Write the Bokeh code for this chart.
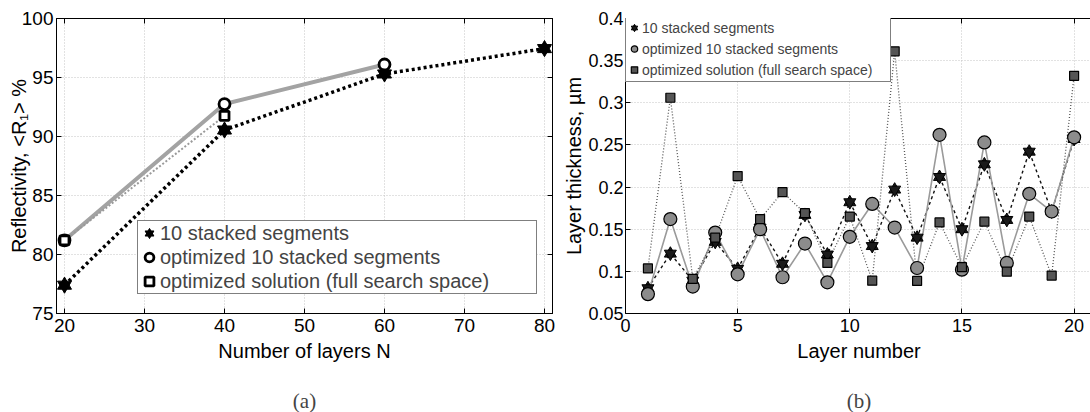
from bokeh.plotting import figure
from bokeh.models import Range1d, FixedTicker, LinearAxis, Legend, LegendItem, Title
from bokeh.layouts import row
from bokeh.embed import file_html
from bokeh.resources import INLINE

# ---------------- data: panel (a) ----------------
n_layers = [20, 40, 60, 80]
refl_stacked = [77.4, 90.55, 95.3, 97.45]
n_layers_opt = [20, 40, 60]
refl_opt_stacked = [81.2, 92.75, 96.1]
n_layers_full = [20, 40]
refl_opt_full = [81.2, 91.75]

a_xticks = [20, 30, 40, 50, 60, 70, 80]
a_yticks = [75, 80, 85, 90, 95, 100]

# ---------------- data: panel (b) ----------------
layer_no = [1, 2, 3, 4, 5, 6, 7, 8, 9, 10, 11, 12, 13, 14, 15, 16, 17, 18, 19, 20]
thk_stacked = [0.080, 0.121, 0.089, 0.135, 0.103, 0.152, 0.109, 0.167, 0.120, 0.182,
               0.130, 0.197, 0.140, 0.212, 0.150, 0.227, 0.161, 0.242, 0.171, 0.257]
thk_opt_stacked = [0.073, 0.162, 0.082, 0.146, 0.0965, 0.150, 0.093, 0.133, 0.087, 0.141,
                   0.180, 0.152, 0.104, 0.262, 0.102, 0.253, 0.110, 0.192, 0.171, 0.259]
thk_opt_full = [0.1035, 0.306, 0.091, 0.140, 0.213, 0.162, 0.194, 0.169, 0.110, 0.165,
                0.089, 0.361, 0.0886, 0.158, 0.105, 0.159, 0.0996, 0.165, 0.095, 0.332]

b_xticks = [0, 5, 10, 15, 20]
b_yticks = [0.05, 0.1, 0.15, 0.2, 0.25, 0.3, 0.35, 0.4]
b_ytick_labels = ["0.05", "0.1", "0.15", "0.2", "0.25", "0.3", "0.35", "0.4"]

labels = ["10 stacked segments", "optimized 10 stacked segments",
          "optimized solution (full search space)"]

FONT = "Liberation Sans"
SERIF = "Liberation Serif"
GRID = "#c4c4c4"


def style_axis(ax, tick_font, ticks, show_labels=True):
    ax.axis_line_color = "black"
    ax.axis_line_width = 1
    ax.major_tick_in = 5
    ax.major_tick_out = 0
    ax.minor_tick_in = 0
    ax.minor_tick_out = 0
    ax.major_tick_line_color = "black"
    ax.major_label_text_font = FONT
    ax.major_label_text_color = "black"
    if show_labels:
        ax.major_label_text_font_size = tick_font
    else:
        ax.major_label_overrides = {t: "" for t in ticks}
        ax.major_label_text_font_size = "1px"
        ax.major_label_standoff = 0
    ax.axis_label_text_font = FONT
    ax.axis_label_text_font_size = "20px"
    ax.axis_label_text_font_style = "normal"
    ax.axis_label_text_color = "black"


def make_frame(p, xt, yt, tick_font, right_axis=True, ylab_over=None):
    xtk = FixedTicker(ticks=xt, minor_ticks=[])
    ytk = FixedTicker(ticks=yt, minor_ticks=[])
    p.xaxis.ticker = xtk
    p.yaxis.ticker = ytk
    for ax in p.xaxis:
        style_axis(ax, tick_font, xt)
    for ax in p.yaxis:
        style_axis(ax, tick_font, yt)
    if ylab_over:
        p.yaxis.major_label_overrides = ylab_over
    top = LinearAxis(ticker=xtk)
    style_axis(top, tick_font, xt, show_labels=False)
    p.add_layout(top, "above")
    if right_axis:
        rt = LinearAxis(ticker=ytk)
        style_axis(rt, tick_font, yt, show_labels=False)
        p.add_layout(rt, "right")
    p.xgrid.ticker = xtk
    p.ygrid.ticker = ytk
    for g in (p.xgrid, p.ygrid):
        g.grid_line_color = GRID
        g.grid_line_dash = "1 2"
        g.grid_line_width = 1
    p.background_fill_color = "white"
    p.border_fill_color = "white"


# ---------------- panel (a) ----------------
pa = figure(frame_width=496, frame_height=295,
            x_range=Range1d(19, 81), y_range=Range1d(75, 100),
            min_border_left=56, min_border_right=8, min_border_top=18, min_border_bottom=99,
            x_axis_label="Number of layers N", y_axis_label="Reflectivity, <R\u2081> %",
            output_backend="svg", toolbar_location=None)
make_frame(pa, a_xticks, a_yticks, "19px")
pa.outline_line_color = "black"
pa.xaxis[0].major_label_standoff = 1
pa.xaxis[0].axis_label_standoff = -18
pa.xaxis[0].axis_label_text_line_height = 0.6
pa.yaxis[0].major_label_standoff = 3
pa.yaxis[0].axis_label_standoff = -11

pa.line(n_layers, refl_stacked, line_color="black", line_width=3.5, line_dash="3 3")
pa.line(n_layers_opt, refl_opt_stacked, line_color="#a3a3a3", line_width=4)
pa.line(n_layers_full, refl_opt_full, line_color="#9a9a9a", line_width=2, line_dash="2 2")

a_st1 = pa.scatter(n_layers, refl_stacked, marker="triangle", size=14,
                   fill_color="black", line_color="black", line_width=1)
a_st2 = pa.scatter(n_layers, refl_stacked, marker="inverted_triangle", size=14,
                   fill_color="black", line_color="black", line_width=1)
a_ci = pa.scatter(n_layers_opt, refl_opt_stacked, marker="circle", size=11,
                  fill_color="white", line_color="black", line_width=2.8)
a_sq = pa.scatter(n_layers_full, refl_opt_full, marker="square", size=9,
                  fill_color="white", line_color="black", line_width=2.8)

leg_a = Legend(items=[LegendItem(label=labels[0], renderers=[a_st1, a_st2]),
                      LegendItem(label=labels[1], renderers=[a_ci]),
                      LegendItem(label=labels[2], renderers=[a_sq])],
               location=(81, 19), padding=0, spacing=0, margin=0,
               glyph_width=22, glyph_height=24, label_height=24, label_width=376,
               label_standoff=0, label_text_font=FONT, label_text_font_size="20px",
               border_line_color="black", border_line_width=1,
               background_fill_color="white", background_fill_alpha=1)
pa.add_layout(leg_a)
pa.add_layout(Title(text="(a)", align="center", text_font=SERIF, text_font_size="21px",
                    text_font_style="normal", standoff=44), "below")

# ---------------- panel (b) ----------------
pb = figure(frame_width=467, frame_height=295,
            x_range=Range1d(0, 20.82), y_range=Range1d(0.05, 0.4),
            min_border_left=63, min_border_right=0, min_border_top=18, min_border_bottom=99,
            x_axis_label="Layer number", y_axis_label="Layer thickness, \u00b5m",
            output_backend="svg", toolbar_location=None)
make_frame(pb, b_xticks, b_yticks, "18px", right_axis=False,
           ylab_over={t: s for t, s in zip(b_yticks, b_ytick_labels)})
pb.outline_line_color = None
pb.xaxis[0].major_label_standoff = 1
pb.xaxis[0].axis_label_standoff = -18
pb.xaxis[0].axis_label_text_line_height = 0.6
pb.yaxis[0].major_label_standoff = 2
pb.yaxis[0].axis_label_standoff = 0

pb.line(layer_no, thk_stacked, line_color="#111111", line_width=1.4, line_dash="3 3")
pb.line(layer_no, thk_opt_stacked, line_color="#9a9a9a", line_width=1.6)
pb.line(layer_no, thk_opt_full, line_color="#555555", line_width=1.3, line_dash="1 2")

b_st1 = pb.scatter(layer_no, thk_stacked, marker="triangle", size=12,
                   fill_color="#1a1a1a", line_color="black", line_width=1)
b_st2 = pb.scatter(layer_no, thk_stacked, marker="inverted_triangle", size=12,
                   fill_color="#1a1a1a", line_color="black", line_width=1)
b_ci = pb.scatter(layer_no, thk_opt_stacked, marker="circle", size=13,
                  fill_color="#8c8c8c", line_color="black", line_width=1.2)
b_sq = pb.scatter(layer_no, thk_opt_full, marker="square", size=9,
                  fill_color="#555555", line_color="black", line_width=1.2)

leg_b = Legend(items=[LegendItem(label=labels[0], renderers=[b_st1, b_st2]),
                      LegendItem(label=labels[1], renderers=[b_ci]),
                      LegendItem(label=labels[2], renderers=[b_sq])],
               location=(0, 231), padding={"left": 0, "right": 0, "top": 0, "bottom": 1},
               spacing=0, margin=0,
               glyph_width=16, glyph_height=21, label_height=21, label_width=248,
               label_standoff=0, label_text_font=FONT, label_text_font_size="14px",
               border_line_color="black", border_line_width=1,
               background_fill_color="white", background_fill_alpha=1)
pb.add_layout(leg_b)
pb.add_layout(Title(text="(b)", align="center", text_font=SERIF, text_font_size="21px",
                    text_font_style="normal", standoff=44), "below")

layout = row(pa, pb)
open("out.html", "w").write(file_html(layout, INLINE))
